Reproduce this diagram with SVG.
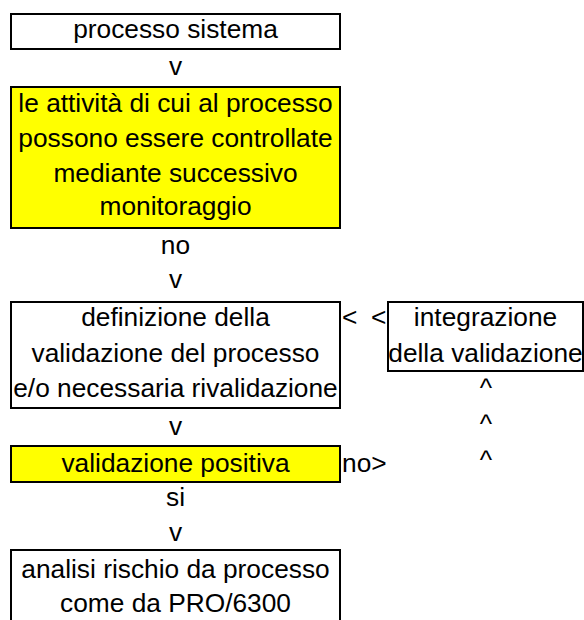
<svg xmlns="http://www.w3.org/2000/svg" width="584" height="620" viewBox="0 0 584 620">
<style>
  text { font-family: "Liberation Sans", Arial, sans-serif; font-size: 26.3px; fill: #000; }
  .c { text-anchor: middle; }
  .box { fill: #fff; stroke: #000; stroke-width: 2; }
  .ybox { fill: #ffff00; stroke: #000; stroke-width: 2; }
</style>
<rect width="584" height="620" fill="#fff"/>
<g id="n1">
  <rect class="box" x="11" y="14" width="329" height="35"/>
  <text class="c" x="175.5" y="38">processo sistema</text>
</g>
<g id="n2">
  <rect class="ybox" x="11" y="87" width="329" height="141"/>
  <text class="c" x="175.5" y="112">le attività di cui al processo</text>
  <text class="c" x="175.5" y="147">possono essere controllate</text>
  <text class="c" x="175.5" y="181.5">mediante successivo</text>
  <text class="c" x="175.5" y="215">monitoraggio</text>
</g>
<g id="n3">
  <rect class="box" x="11" y="302" width="329" height="106"/>
  <text class="c" x="175.5" y="326">definizione della</text>
  <text class="c" x="175.5" y="361.5">validazione del processo</text>
  <text class="c" x="175.5" y="396.5">e/o necessaria rivalidazione</text>
</g>
<g id="n4">
  <rect class="box" x="388" y="302" width="195" height="69"/>
  <text class="c" x="485.5" y="326">integrazione</text>
  <text class="c" x="485.5" y="361.5">della validazione</text>
</g>
<g id="n5">
  <rect class="ybox" x="11" y="446" width="329" height="36"/>
  <text class="c" x="175.5" y="471.5">validazione positiva</text>
</g>
<g id="n6">
  <rect class="box" x="11" y="550" width="329" height="80"/>
  <text class="c" x="175.5" y="578">analisi rischio da processo</text>
  <text class="c" x="175.5" y="612">come da PRO/6300</text>
</g>
<g id="connectors">
  <text class="c" x="175.5" y="75">v</text>
  <text class="c" x="175.5" y="254">no</text>
  <text class="c" x="175.5" y="288">v</text>
  <text x="342" y="326">&lt;</text>
  <text x="371" y="326">&lt;</text>
  <text class="c" x="486" y="397">^</text>
  <text class="c" x="486" y="433">^</text>
  <text class="c" x="486" y="469">^</text>
  <text class="c" x="175.5" y="435">v</text>
  <text x="342" y="471.5">no&gt;</text>
  <text class="c" x="175.5" y="506">si</text>
  <text class="c" x="175.5" y="541">v</text>
</g>
</svg>
